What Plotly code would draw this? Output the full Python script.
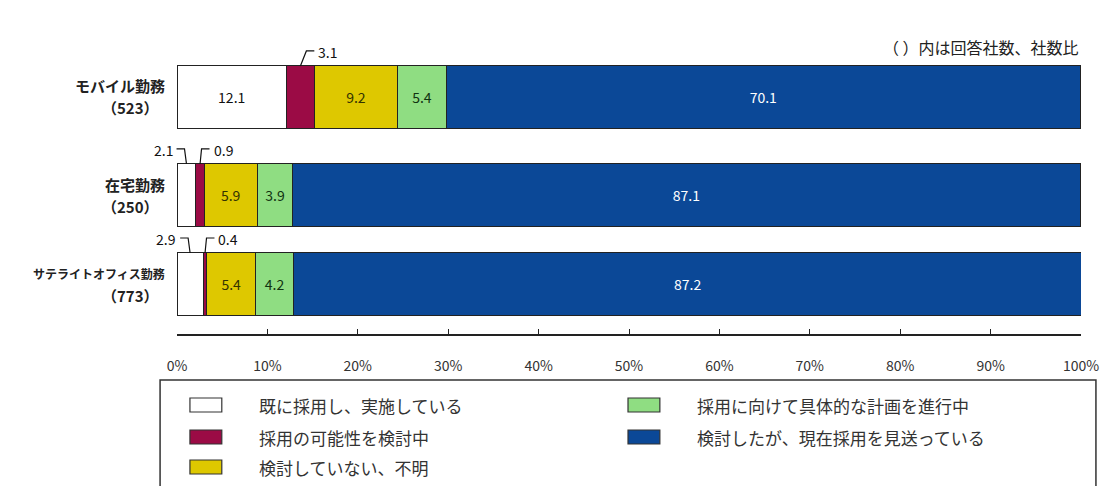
import plotly.graph_objects as go

categories = ["モバイル勤務", "在宅勤務", "サテライトオフィス勤務"]
counts = ["523", "250", "773"]
series_names = [
    "既に採用し、実施している",
    "採用の可能性を検討中",
    "検討していない、不明",
    "採用に向けて具体的な計画を進行中",
    "検討したが、現在採用を見送っている",
]
values = [
    [12.1, 2.1, 2.9],
    [3.1, 0.9, 0.4],
    [9.2, 5.9, 5.4],
    [5.4, 3.9, 4.2],
    [70.1, 87.1, 87.2],
]
colors = ["#FFFFFF", "#9B0B45", "#DEC800", "#8FDD82", "#0B4897"]
text_colors = ["#111111", "#FFFFFF", "#333300", "#113311", "#FFFFFF"]
x_ticks = [0, 10, 20, 30, 40, 50, 60, 70, 80, 90, 100]
note = "（ ）内は回答社数、社数比"

FONT = "Noto Sans CJK JP"
W, H = 1111, 486
ML, MR, MT, MB = 177, 26, 56, 152
PW = W - ML - MR
PH = H - MT - MB

# row positions (layout), bar thickness
ypos = [0, 1.0, 1.908]
BW = 0.633
YR = [2.418, -0.418]
px_per_unit = PH / (YR[0] - YR[1])
px_per_pct = PW / 100.0

SMALL = 3.5


def dx2p(x):
    return x / 100.0


def dy2p(y):
    return (YR[0] - y) / (YR[0] - YR[1])


def px2paper_x(p):
    return (p - ML) / PW


def px2paper_y(p):
    return (MT + PH - p) / PH


fig = go.Figure()
for i, name in enumerate(series_names):
    txt = [("" if v < SMALL else f"{v:.1f}") for v in values[i]]
    fig.add_trace(go.Bar(
        y=ypos, x=values[i], orientation="h", name=name,
        width=BW,
        marker=dict(color=colors[i], line=dict(color="#222222", width=1)),
        text=txt, textposition="inside", insidetextanchor="middle",
        textangle=0,
        textfont=dict(family=FONT, size=14, color=text_colors[i]),
        showlegend=False, hoverinfo="x+name",
    ))

shapes = []
annotations = []

# category labels (two lines, right-aligned next to the bars)
for r, (c, n) in enumerate(zip(categories, counts)):
    size = 12 if len(c) > 8 else 15
    annotations.append(dict(
        x=px2paper_x(166), y=dy2p(ypos[r]), xref="paper", yref="paper",
        text=f"<b>{c}</b>", showarrow=False, xanchor="right", yanchor="middle",
        yshift=11, borderpad=0,
        font=dict(family=FONT, size=size, color="#222222")))
    annotations.append(dict(
        x=px2paper_x(160), y=dy2p(ypos[r]), xref="paper", yref="paper",
        text=f"<b>（{n}）</b>", showarrow=False, xanchor="right", yanchor="middle",
        yshift=-11, borderpad=0,
        font=dict(family=FONT, size=15, color="#222222")))

# callouts for small segments (paper coordinates so nothing is clipped)
for r in range(len(categories)):
    start = 0.0
    for i in range(len(series_names)):
        v = values[i][r]
        if v < SMALL:
            cx = start + v / 2.0
            top = ypos[r] - BW / 2.0
            up = 15.0 / px_per_unit
            if i == 0:
                x_top = cx - 2.0 / px_per_pct
                x_end = x_top - 8.0 / px_per_pct
                anchor, xs = "right", -2
            else:
                x_top = cx + (6.0 if r == 0 else 1.5) / px_per_pct
                x_end = x_top + 8.0 / px_per_pct
                anchor, xs = "left", 2
            path = (f"M {dx2p(cx)},{dy2p(top)} L {dx2p(x_top)},{dy2p(top - up)} "
                    f"L {dx2p(x_end)},{dy2p(top - up)}")
            shapes.append(dict(type="path", path=path, xref="paper", yref="paper",
                               line=dict(color="#111111", width=1.2)))
            annotations.append(dict(
                x=dx2p(x_end), y=dy2p(top - up), xref="paper", yref="paper",
                text=f"{v:.1f}", showarrow=False, xanchor=anchor, yanchor="middle",
                xshift=xs, yshift=-1,
                font=dict(family=FONT, size=14, color="#111111")))
        start += v

# note at top right
annotations.append(dict(
    x=1.0, y=px2paper_y(47), xref="paper", yref="paper",
    text=note, showarrow=False, xanchor="right", yanchor="middle",
    font=dict(family=FONT, size=16, color="#222222")))

# manual legend
shapes.append(dict(type="rect", xref="paper", yref="paper",
                   x0=px2paper_x(160), x1=px2paper_x(1100),
                   y0=px2paper_y(380), y1=px2paper_y(495),
                   line=dict(color="#333333", width=1.5), fillcolor="rgba(0,0,0,0)"))

legend_slots = [
    (190, 257, 405),
    (190, 257, 437),
    (190, 257, 467),
    (630, 697, 405),
    (630, 697, 437),
]
for i, name in enumerate(series_names):
    sx, tx, cy = legend_slots[i]
    shapes.append(dict(type="rect", xref="paper", yref="paper",
                       x0=px2paper_x(sx), x1=px2paper_x(sx + 32),
                       y0=px2paper_y(cy - 7), y1=px2paper_y(cy + 7),
                       line=dict(color="#333333", width=1.2), fillcolor=colors[i]))
    annotations.append(dict(
        x=px2paper_x(tx), y=px2paper_y(cy), xref="paper", yref="paper",
        text=name, showarrow=False, xanchor="left", yanchor="middle",
        font=dict(family=FONT, size=17, color="#333333")))

fig.update_layout(
    barmode="stack",
    width=W, height=H,
    margin=dict(l=ML, r=MR, t=MT, b=MB),
    paper_bgcolor="white", plot_bgcolor="white",
    bargap=0.3,
    shapes=shapes, annotations=annotations,
    xaxis=dict(range=[0, 100], tickvals=x_ticks,
               ticktext=[f"{t}%" for t in x_ticks],
               showgrid=False, zeroline=False,
               showline=True, linecolor="#222222", linewidth=1.5,
               ticks="inside", ticklen=5, tickcolor="#222222", tickwidth=1,
               ticklabelstandoff=18,
               tickfont=dict(family=FONT, size=14, color="#333333")),
    yaxis=dict(range=YR, tickvals=ypos, showticklabels=False,
               showgrid=False, zeroline=False, showline=False, ticks=""),
    font=dict(family=FONT),
)

fig.write_html("out.html")
